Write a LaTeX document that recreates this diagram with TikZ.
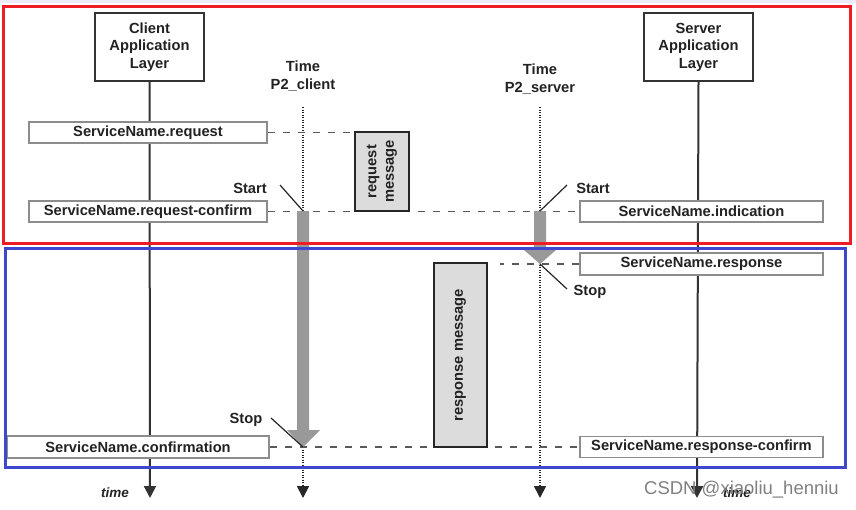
\documentclass[tikz,border=0pt]{standalone}
\usepackage{fontspec}
\setmainfont{Liberation Sans}
\usetikzlibrary{arrows.meta,calc,backgrounds}
\definecolor{framered}{HTML}{EE1C24}
\definecolor{frameblue}{HTML}{3F48CC}
\definecolor{barg}{HTML}{999999}
\definecolor{msgfill}{HTML}{DCDCDC}
\definecolor{inkc}{HTML}{222222}
\begin{document}
\begin{tikzpicture}[x=1pt,y=-1pt,
  every node/.style={inner sep=0pt,text=inkc},
  lbl/.style={font=\fontsize{14.7}{17.5}\selectfont\bfseries,align=center},
  layerbox/.style={lbl,draw=black!80,line width=1.8pt,fill=white,minimum width=109pt,minimum height=68pt},
  svcbox/.style={lbl,draw=black!45,line width=1.4pt,fill=white,minimum height=21pt},
  msgbox/.style={lbl,draw=black!85,line width=2pt,fill=msgfill,rotate=90},
  lifeline/.style={draw=black!80,line width=2pt,-{Triangle[width=12pt,length=12pt]}},
  timeline/.style={draw=black!85,line width=1.7pt,dash pattern=on 1.3pt off 1.2pt,-{Triangle[width=12pt,length=12pt]}},
  msgline/.style={draw=black!65,line width=1.5pt,dash pattern=on 7pt off 8pt},
  pointer/.style={draw=black!85,line width=1.2pt},
  gbar/.style={fill=barg},
  timelbl/.style={font=\fontsize{13.5}{15}\selectfont\bfseries\itshape},
]
\useasboundingbox (0,0) rectangle (856,509);
\fill[black!12!blue!8!white] (0,0) rectangle (856,2.5);

% layer boxes
\node[layerbox] (client) at (149.5,47) {Client\\Application\\Layer};
\node[layerbox] (server) at (698.5,47) {Server\\Application\\Layer};

% time labels
\node[lbl] (tclient) at (303,76) {Time\\P2\_client};
\node[lbl] (tserver) at (540,79) {Time\\P2\_server};

% service primitive boxes
\node[svcbox,minimum width=238pt] (req) at (148,132.5) {ServiceName.request};
\node[svcbox,minimum width=238pt] (reqconf) at (148,211.5) {ServiceName.request-confirm};
\node[svcbox,minimum width=262pt,minimum height=22pt] (conf) at (138,447) {ServiceName.confirmation};
\node[svcbox,minimum width=243pt] (ind) at (701.5,211.5) {ServiceName.indication};
\node[svcbox,minimum width=243pt,minimum height=22pt] (resp) at (701.5,264) {ServiceName.response};
\node[svcbox,minimum width=243pt] (respconf) at (701.5,447) {ServiceName.response-confirm};

% message boxes
\node[msgbox,minimum width=79pt,minimum height=54pt] (reqmsg) at (382,171.5) {request\\message};
\node[msgbox,minimum width=184pt,minimum height=53pt] (respmsg) at (460.5,355) {response message};

% coordinates
\coordinate (cend) at (150,498);
\coordinate (send) at (697,498);
\coordinate (tcstart) at (303,107);
\coordinate (tcend) at (303,498);
\coordinate (tsstart) at (540,107);
\coordinate (tsend) at (540,498);
\coordinate (cs) at (303,211);
\coordinate (ce) at (303,447);
\coordinate (ss) at (540,211);
\coordinate (se) at (540,264);
\coordinate (respfrom) at (500,264);

\begin{pgfonlayer}{background}
  \draw[lifeline] (client.south) -- (cend);
  \draw[lifeline] (server.south) -- (send);
  \draw[timeline] (tcstart) -- (tcend);
  \draw[timeline] (tsstart) -- (tsend);
  \draw[msgline] (req.east) -- (req.east -| reqmsg.north);
  \draw[msgline] (reqconf.east) -- (ind.west);
  \draw[msgline] (resp.west) -- (respfrom);
  \draw[msgline] (conf.east) -- (respconf.west);
\end{pgfonlayer}

% gray activity arrows
\fill[gbar] ($(cs)+(-6,0)$) -- ($(cs)+(6,0)$) -- ($(ce)+(6,-17)$) -- ($(ce)+(17,-17)$)
  -- (ce) -- ($(ce)+(-16,-17)$) -- ($(ce)+(-6,-17)$) -- cycle;
\fill[gbar] ($(ss)+(-6,0)$) -- ($(ss)+(6,0)$) -- ($(se)+(6,-14)$) -- ($(se)+(16,-14)$)
  -- (se) -- ($(se)+(-16,-14)$) -- ($(se)+(-6,-14)$) -- cycle;

% start / stop labels
\node[lbl] (cstart) at (250,188) {Start};
\node[lbl] (cstop) at (246,420) {Stop};
\node[lbl] (sstart) at (593,188) {Start};
\node[lbl] (sstop) at (590,292) {Stop};
\coordinate (cstartp) at (280,185);
\coordinate (cstopp) at (271,418);
\coordinate (sstartp) at (567,185);
\coordinate (sstopp) at (567,289);
\draw[pointer] (cstartp) -- (cs);
\draw[pointer] (cstopp) -- (ce);
\draw[pointer] (sstartp) -- (ss);
\draw[pointer] (sstopp) -- (se);

% time captions
\node[timelbl] (ctime) at (115,493) {time};
\node[timelbl] (stime) at (737,493) {time};
\node[font=\fontsize{18.5}{20}\selectfont,text=black!50] (wm) at (741.5,490) {CSDN @xiaoliu\_henniu};

% frames
\draw[framered,line width=3pt] (3.5,6.5) rectangle (850,243);
\draw[frameblue,line width=3pt] (5,248.5) rectangle (845,467);
\end{tikzpicture}
\end{document}
